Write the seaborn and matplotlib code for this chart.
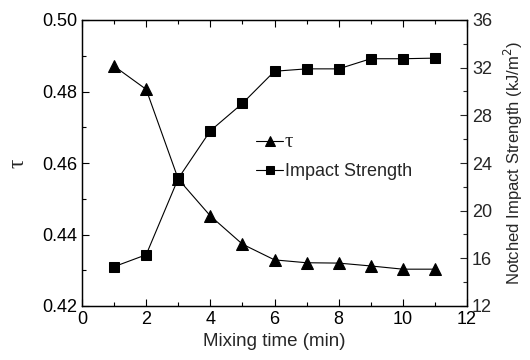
import matplotlib
matplotlib.use("Agg")
import matplotlib.pyplot as plt
import seaborn as sns
import pandas as pd
from matplotlib.ticker import MultipleLocator

mixing_time = [1, 2, 3, 4, 5, 6, 7, 8, 9, 10, 11]
tau = [0.4871, 0.4806, 0.4555, 0.4452, 0.4373, 0.4329, 0.4321, 0.4320, 0.4312, 0.4303, 0.4303]
impact = [15.3, 16.3, 22.7, 26.7, 29.0, 31.7, 31.9, 31.9, 32.75, 32.75, 32.8]

sns.set_style("ticks")
plt.rcParams['font.family'] = ['Liberation Sans', 'DejaVu Sans']
plt.rcParams['xtick.direction'] = 'in'
plt.rcParams['ytick.direction'] = 'in'

df = pd.DataFrame({"t": mixing_time, "tau": tau, "impact": impact})

fig = plt.figure(figsize=(5.3, 3.6), dpi=100)
ax = fig.add_axes([82/530, 54/360, 385/530, 286/360])
ax2 = ax.twinx()

sns.lineplot(data=df, x="t", y="tau", ax=ax, color="black", lw=0.8,
             marker="^", markersize=8, markeredgecolor="black", label="τ", legend=False)
sns.lineplot(data=df, x="t", y="impact", ax=ax2, color="black", lw=0.8,
             marker="s", markersize=6.5, markeredgecolor="black", label="Impact Strength", legend=False)

ax.set_xlim(0, 12)
ax.set_ylim(0.42, 0.50)
ax2.set_ylim(12, 36)
ax.xaxis.set_major_locator(MultipleLocator(2))
ax.xaxis.set_minor_locator(MultipleLocator(1))
ax.yaxis.set_major_locator(MultipleLocator(0.02))
ax.yaxis.set_minor_locator(MultipleLocator(0.01))
ax2.yaxis.set_major_locator(MultipleLocator(4))
ax2.yaxis.set_minor_locator(MultipleLocator(2))
ax.yaxis.set_major_formatter(matplotlib.ticker.FormatStrFormatter('%.2f'))

for a in (ax, ax2):
    for s in a.spines.values():
        s.set_visible(True)
        s.set_linewidth(0.9)
        s.set_color("black")
ax.tick_params(axis='both', which='both', top=True, labelsize=13, colors='black', width=0.8)
ax.tick_params(which='major', length=5)
ax.tick_params(which='minor', length=3)
ax2.tick_params(axis='y', which='both', labelsize=13, width=0.8)
ax2.tick_params(which='major', length=5)
ax2.tick_params(which='minor', length=3)

ax.set_xlabel("Mixing time (min)", fontsize=13.5, labelpad=4)
ax.set_ylabel("τ", fontsize=17, family=['Liberation Serif'], labelpad=10)
ax2.set_ylabel("Notched Impact Strength (kJ/m$^2$)", fontsize=12, labelpad=7)

h1, l1 = ax.get_legend_handles_labels()
h2, l2 = ax2.get_legend_handles_labels()
leg = fig.legend(h1 + h2, l1 + l2, loc="upper left", bbox_to_anchor=(247/530, 1 - 124/360),
                 frameon=False, fontsize=13, handlelength=1.5, handletextpad=0.1,
                 labelspacing=0.6, borderpad=0, markerscale=0.85)
leg.get_texts()[0].set_family(['Liberation Serif'])
leg.get_texts()[0].set_fontsize(15)

fig.savefig("out.png", dpi=100)
